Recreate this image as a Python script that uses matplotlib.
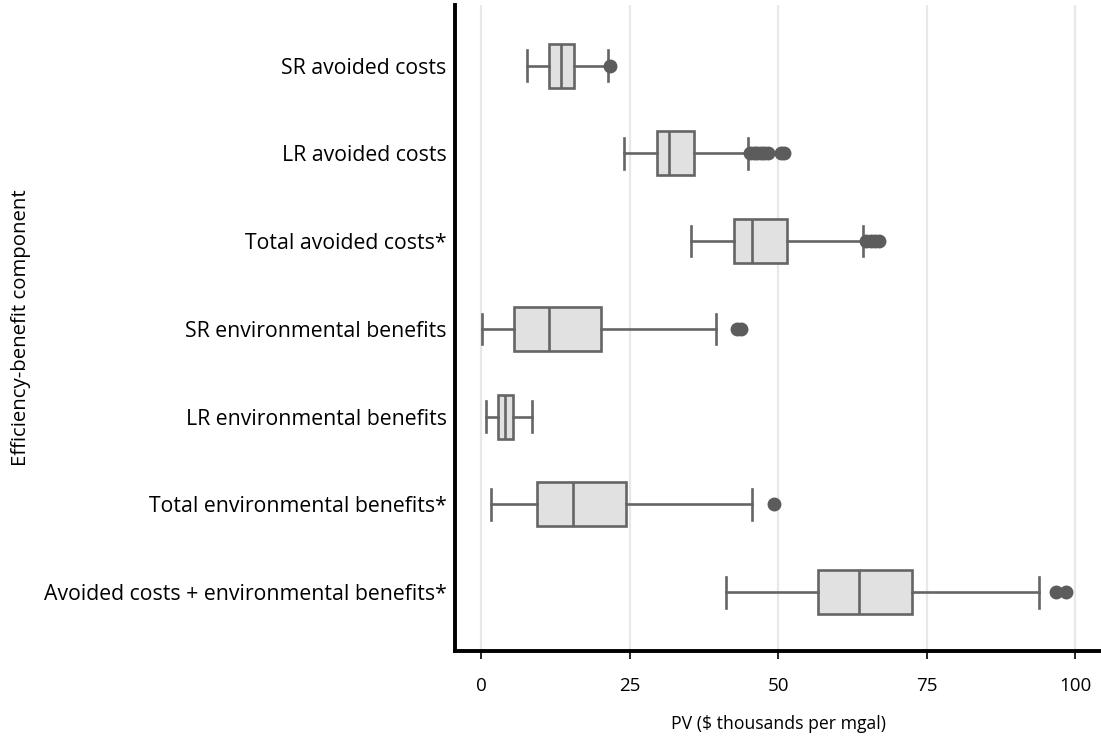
import matplotlib.pyplot as plt

plt.rcParams['font.family'] = ['Open Sans', 'DejaVu Sans']

categories = ['SR avoided costs', 'LR avoided costs', 'Total avoided costs*',
              'SR environmental benefits', 'LR environmental benefits',
              'Total environmental benefits*',
              'Avoided costs + environmental benefits*']

whisker_lo = [7.7, 24.0, 35.3, 0.1, 0.8, 1.6, 41.2]
q1 = [11.4, 29.5, 42.5, 5.5, 2.7, 9.3, 56.7]
median = [13.4, 31.6, 45.5, 11.4, 4.0, 15.4, 63.5]
q3 = [15.5, 35.7, 51.4, 20.1, 5.35, 24.4, 72.5]
whisker_hi = [21.35, 44.9, 64.2, 39.4, 8.5, 45.6, 93.8]
outliers = [
    [21.7],
    [45.2, 45.8, 46.4, 47.0, 47.6, 48.3, 50.5, 51.0],
    [64.8, 65.5, 66.3, 67.0],
    [43.0, 43.7],
    [],
    [49.3],
    [96.8, 98.4],
]

stats = []
for i, name in enumerate(categories):
    stats.append(dict(label=name, whislo=whisker_lo[i], q1=q1[i], med=median[i],
                      q3=q3[i], whishi=whisker_hi[i], fliers=outliers[i]))

edge = '#656565'
fig = plt.figure(figsize=(11.01, 7.40), dpi=100)
ax = fig.add_axes([0.4133, 0.1203, 0.5867, 0.8729])

ax.grid(axis='x', color='#e8e8e8', linewidth=1.6, zorder=0)
ax.set_axisbelow(True)

ax.bxp(stats, positions=range(len(categories)), vert=False, widths=0.5,
       capwidths=0.35, patch_artist=True,
       boxprops=dict(facecolor='#e1e1e1', edgecolor=edge, linewidth=1.9),
       medianprops=dict(color=edge, linewidth=1.9),
       whiskerprops=dict(color=edge, linewidth=1.9),
       capprops=dict(color=edge, linewidth=1.9),
       flierprops=dict(marker='o', markerfacecolor='#5c5c5c',
                       markeredgecolor='#5c5c5c', markersize=9))

ax.set_xlim(-4.45, 104.3)
ax.set_ylim(6.67, -0.69)
ax.set_xticks([0, 25, 50, 75, 100])
ax.set_yticks(range(len(categories)))
ax.set_yticklabels(categories)
ax.tick_params(axis='y', length=0, labelsize=15.3, pad=6)
ax.tick_params(axis='x', length=6, width=1.2, labelsize=13.5, pad=13)

for s in ['top', 'right']:
    ax.spines[s].set_visible(False)
ax.spines['left'].set_linewidth(2.8)
ax.spines['bottom'].set_linewidth(2.8)

ax.set_xlabel('PV ($ thousands per mgal)', fontsize=12.7, labelpad=14)
ax.set_ylabel('Efficiency-benefit component', fontsize=14.7, labelpad=9)

fig.savefig('out.png', dpi=100)
